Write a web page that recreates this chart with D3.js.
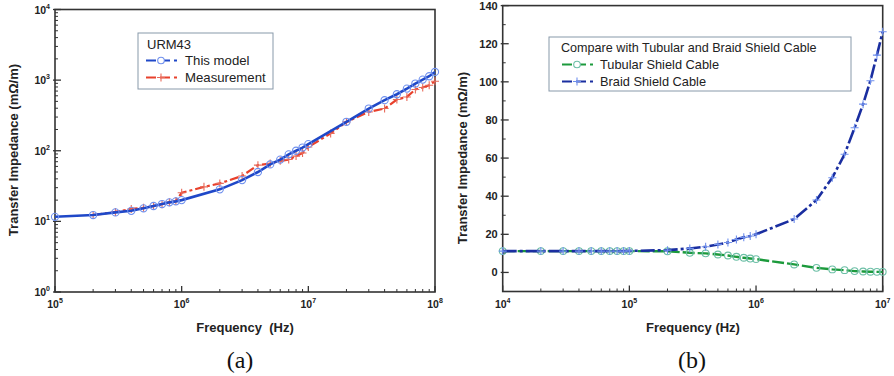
<!DOCTYPE html>
<html><head><meta charset="utf-8">
<script src="https://cdn.jsdelivr.net/npm/d3@7"></script>
<style>body{margin:0;background:#fff}svg{display:block}</style>
</head><body>
<svg id="c" width="894" height="376"></svg>
<script>
// ---- Data (a) ----
const freqA = [1e5,2e5,3e5,4e5,5e5,6e5,7e5,8e5,9e5,1e6,2e6,3e6,4e6,5e6,6e6,7e6,8e6,9e6,1e7,2e7,3e7,4e7,5e7,6e7,7e7,8e7,9e7,1e8];
const modelA = [11.6,12.3,13.4,14.1,15.3,16.5,17.6,18.6,19.2,20,28.4,38.4,50,64,75,89,100,111,124,257,396,520,631,759,895,1018,1135,1306];
const freqMeas = [2e5,3e5,4e5,5e5,6e5,7e5,8e5,9e5,1e6,1.5e6,2e6,3e6,4e6,5e6,6e6,7e6,8e6,9e6,1e7,1.5e7,2e7,3e7,4e7,5e7,6e7,7e7,8e7,9e7,1e8];
const measA = [12.3,13.6,15.0,15.6,16.5,17.5,18.6,19.5,25.4,30.8,34.5,44,62.5,66,72,75,84,93,113,176,256,355,396,531,578,736,785,847,965];
const legendA = ["URM43","This model","Measurement"];
// ---- Data (b) ----
const freqB = [1e4,2e4,3e4,4e4,5e4,6e4,7e4,8e4,9e4,1e5,2e5,3e5,4e5,5e5,6e5,7e5,8e5,9e5,1e6,2e6,3e6,4e6,5e6,6e6,7e6,8e6,9e6,1e7];
const tubular = [11.2,11.2,11.2,11.2,11.2,11.2,11.2,11.2,11.2,11.2,11.1,10.3,10.0,9.4,8.9,8.2,7.7,7.3,7.0,4.2,2.4,1.6,1.2,0.7,0.5,0.4,0.3,0.3];
const braid = [11.2,11.2,11.2,11.2,11.2,11.2,11.2,11.2,11.2,11.3,11.7,12.6,13.5,14.7,15.7,17.3,18.4,19.1,20,28,38,49.7,62,75.9,88.3,100.6,114,126.3];
const legendB = ["Compare with Tubular and Braid Shield Cable","Tubular Shield Cable","Braid Shield Cable"];
const yTicksB = [0,20,40,60,80,100,120,140];
const captions = ["(a)","(b)"];

const svg = d3.select("#c");
const SANS = "'Liberation Sans', Arial, sans-serif";
const FRAME = "#333";

function supLabel(sel, exp){
  sel.text("");
  sel.append("tspan").text("10");
  sel.append("tspan").attr("dy",-5).attr("font-size",7).text(exp);
}

function logMinor(lo, hi){
  const out=[];
  for(let e=lo;e<hi;e++) for(let m=2;m<=9;m++) out.push(m*Math.pow(10,e));
  return out;
}

function frame(g, x0,x1,y0,y1){
  g.append("rect").attr("x",x0).attr("y",y0).attr("width",x1-x0).attr("height",y1-y0)
    .attr("fill","none").attr("stroke",FRAME).attr("stroke-width",1.6);
}

function cross(g, x, y, s, color){
  g.append("path").attr("d",`M${x-s},${y}H${x+s}M${x},${y-s}V${y+s}`).attr("stroke",color).attr("stroke-width",1.1).attr("fill","none");
}

// ================= Panel (a) =================
{
  const L=55,R=435,T=9.5,B=292;
  const x = d3.scaleLog().domain([1e5,1e8]).range([L,R]);
  const y = d3.scaleLog().domain([1,1e4]).range([B,T]);
  const g = svg.append("g");
  frame(g,L,R,T,B);
  const xMaj=[1e5,1e6,1e7,1e8];
  g.selectAll(".xm").data(logMinor(5,8)).join("line").attr("x1",d=>x(d)).attr("x2",d=>x(d)).attr("y1",B).attr("y2",B-3).attr("stroke",FRAME);
  g.selectAll(".xM").data(xMaj).join("line").attr("x1",d=>x(d)).attr("x2",d=>x(d)).attr("y1",B).attr("y2",B-6).attr("stroke",FRAME).attr("stroke-width",1.3);
  g.selectAll(".xl").data(xMaj).join("text").attr("x",d=>x(d)).attr("y",308).attr("text-anchor","middle")
    .attr("font-family",SANS).attr("font-weight","bold").attr("font-size",10.5).attr("fill","#222")
    .each(function(d){supLabel(d3.select(this),Math.round(Math.log10(d)));});
  const yMaj=[1,10,100,1000,1e4];
  g.selectAll(".ym").data(logMinor(0,4)).join("line").attr("x1",L).attr("x2",L+3).attr("y1",d=>y(d)).attr("y2",d=>y(d)).attr("stroke",FRAME);
  g.selectAll(".yM").data(yMaj).join("line").attr("x1",L-2).attr("x2",L+6).attr("y1",d=>y(d)).attr("y2",d=>y(d)).attr("stroke",FRAME).attr("stroke-width",1.3);
  g.selectAll(".yl").data(yMaj).join("text").attr("x",L-5).attr("y",d=>y(d)+4).attr("text-anchor","end")
    .attr("font-family",SANS).attr("font-weight","bold").attr("font-size",10.5).attr("fill","#222")
    .each(function(d){supLabel(d3.select(this),Math.round(Math.log10(d)));});
  const line = d3.line().x(d=>x(d[0])).y(d=>y(d[1]));
  const measPts = freqMeas.map((f,i)=>[f,measA[i]]);
  const modelPts = freqA.map((f,i)=>[f,modelA[i]]);
  g.append("path").attr("d",line(measPts)).attr("fill","none").attr("stroke","#e8412c").attr("stroke-width",2.2).attr("stroke-dasharray","9,3,3,3");
  measPts.forEach(p=>cross(g,x(p[0]),y(p[1]),4,"#e86a5a"));
  g.append("path").attr("d",line(modelPts)).attr("fill","none").attr("stroke","#1f48c8").attr("stroke-width",2.6);
  g.selectAll(".mc").data(modelPts).join("circle").attr("cx",d=>x(d[0])).attr("cy",d=>y(d[1])).attr("r",3.6)
    .attr("fill","none").attr("stroke","#6f90ee").attr("stroke-width",1.1);
  const lg = g.append("g");
  lg.append("rect").attr("x",138).attr("y",33).attr("width",135).attr("height",56).attr("fill","#fff").attr("stroke","#8899aa").attr("stroke-width",1);
  lg.append("text").attr("x",147).attr("y",49).text(legendA[0]).attr("font-family",SANS).attr("font-size",13).attr("fill","#222");
  [[65,"#1f48c8","circle",legendA[1]],[82,"#e8412c","cross",legendA[2]]].forEach(([yy,c,m,t])=>{
    lg.append("line").attr("x1",146).attr("x2",177).attr("y1",yy-4.5).attr("y2",yy-4.5).attr("stroke",c).attr("stroke-width",2.2).attr("stroke-dasharray","10,4");
    if(m==="circle") lg.append("circle").attr("cx",161).attr("cy",yy-4.5).attr("r",3.3).attr("fill","#fff").attr("stroke","#6f90ee").attr("stroke-width",1.1);
    else cross(lg,161,yy-4.5,4,"#e86a5a");
    lg.append("text").attr("x",185).attr("y",yy).text(t).attr("font-family",SANS).attr("font-size",13.2).attr("fill","#222");
  });
  g.append("text").attr("x",245).attr("y",332).attr("text-anchor","middle").attr("font-family",SANS).attr("font-weight","bold").attr("font-size",13).attr("fill","#222").attr("xml:space","preserve").text("Frequency  (Hz)");
  g.append("text").attr("transform","translate(18,150) rotate(-90)").attr("text-anchor","middle").attr("font-family",SANS).attr("font-weight","bold").attr("font-size",13).attr("fill","#222").text("Transfer Impedance (mΩ/m)");
  g.append("text").attr("x",240).attr("y",368).attr("text-anchor","middle").attr("font-family","'Liberation Serif', 'Times New Roman', serif").attr("font-size",24).attr("fill","#111").text(captions[0]);
}

// ================= Panel (b) =================
{
  const L=502.7,R=882.7,T=5.6,B=291.5;
  const x = d3.scaleLog().domain([1e4,1e7]).range([L,R]);
  const y = d3.scaleLinear().domain([-10,140]).range([B,T]);
  const g = svg.append("g");
  frame(g,L,R,T,B);
  const xMaj=[1e4,1e5,1e6,1e7];
  g.selectAll(".xm").data(logMinor(4,7)).join("line").attr("x1",d=>x(d)).attr("x2",d=>x(d)).attr("y1",B).attr("y2",B-3).attr("stroke",FRAME);
  g.selectAll(".xM").data(xMaj).join("line").attr("x1",d=>x(d)).attr("x2",d=>x(d)).attr("y1",B).attr("y2",B-6).attr("stroke",FRAME).attr("stroke-width",1.3);
  g.selectAll(".xl").data(xMaj).join("text").attr("x",d=>x(d)).attr("y",308).attr("text-anchor","middle")
    .attr("font-family",SANS).attr("font-weight","bold").attr("font-size",10.5).attr("fill","#222")
    .each(function(d){supLabel(d3.select(this),Math.round(Math.log10(d)));});
  const yMinor = d3.range(-10,141,10).filter(v=>v%20!==0);
  g.selectAll(".ym").data(yMinor).join("line").attr("x1",L).attr("x2",L+3).attr("y1",d=>y(d)).attr("y2",d=>y(d)).attr("stroke",FRAME);
  g.selectAll(".yM").data(yTicksB).join("line").attr("x1",L-2).attr("x2",L+6).attr("y1",d=>y(d)).attr("y2",d=>y(d)).attr("stroke",FRAME).attr("stroke-width",1.3);
  g.selectAll(".yl").data(yTicksB).join("text").attr("x",L-5).attr("y",d=>y(d)+4).attr("text-anchor","end")
    .attr("font-family",SANS).attr("font-weight","bold").attr("font-size",11).attr("fill","#222").text(d=>d);
  const line = d3.line().x(d=>x(d[0])).y(d=>y(d[1]));
  const tubPts = freqB.map((f,i)=>[f,tubular[i]]);
  const brPts = freqB.map((f,i)=>[f,braid[i]]);
  g.append("path").attr("d",line(tubPts)).attr("fill","none").attr("stroke","#1c9a3c").attr("stroke-width",2.4).attr("stroke-dasharray","12,3");
  g.selectAll(".tc").data(tubPts).join("circle").attr("cx",d=>x(d[0])).attr("cy",d=>y(d[1])).attr("r",3.4)
    .attr("fill","none").attr("stroke","#6cbfa6").attr("stroke-width",1.1);
  g.append("path").attr("d",line(brPts)).attr("fill","none").attr("stroke","#1a2ea0").attr("stroke-width",2.6).attr("stroke-dasharray","14,3,3,3");
  brPts.forEach(p=>cross(g,x(p[0]),y(p[1]),4,"#6f90ee"));
  const lg = g.append("g");
  lg.append("rect").attr("x",549).attr("y",37).attr("width",302).attr("height",54).attr("fill","#fff").attr("stroke","#8899aa").attr("stroke-width",1);
  lg.append("text").attr("x",561).attr("y",52).text(legendB[0]).attr("font-family",SANS).attr("font-size",12.6).attr("fill","#222");
  [[69,"#1c9a3c","circle",legendB[1]],[86,"#1a2ea0","cross",legendB[2]]].forEach(([yy,c,m,t])=>{
    lg.append("line").attr("x1",562).attr("x2",593).attr("y1",yy-4.5).attr("y2",yy-4.5).attr("stroke",c).attr("stroke-width",2.2).attr("stroke-dasharray","10,4");
    if(m==="circle") lg.append("circle").attr("cx",577).attr("cy",yy-4.5).attr("r",3.3).attr("fill","#fff").attr("stroke","#6cbfa6").attr("stroke-width",1.1);
    else cross(lg,577,yy-4.5,4,"#6f90ee");
    lg.append("text").attr("x",600).attr("y",yy).text(t).attr("font-family",SANS).attr("font-size",12.8).attr("fill","#222");
  });
  g.append("text").attr("x",693).attr("y",332).attr("text-anchor","middle").attr("font-family",SANS).attr("font-weight","bold").attr("font-size",13).attr("fill","#222").text("Frequency (Hz)");
  g.append("text").attr("transform","translate(467,158) rotate(-90)").attr("text-anchor","middle").attr("font-family",SANS).attr("font-weight","bold").attr("font-size",13).attr("fill","#222").text("Transfer Impedance (mΩ/m)");
  g.append("text").attr("x",692).attr("y",368).attr("text-anchor","middle").attr("font-family","'Liberation Serif', 'Times New Roman', serif").attr("font-size",24).attr("fill","#111").text(captions[1]);
}
</script>
</body></html>
